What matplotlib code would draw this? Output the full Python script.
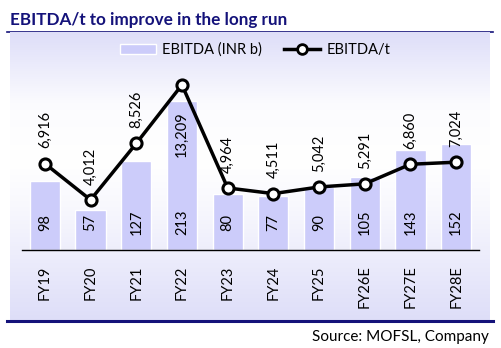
import matplotlib.pyplot as plt
import numpy as np
from matplotlib.lines import Line2D
from matplotlib.patches import Patch

# data
years = ['FY19', 'FY20', 'FY21', 'FY22', 'FY23', 'FY24', 'FY25', 'FY26E', 'FY27E', 'FY28E']
ebitda = [98, 57, 127, 213, 80, 77, 90, 105, 143, 152]
ebitda_per_t = [6916, 4012, 8526, 13209, 4964, 4511, 5042, 5291, 6860, 7024]

navy = '#14127a'
bar_color = '#ccccfa'
font = 'Lato'

W, H = 501, 348
fig = plt.figure(figsize=(W / 100, H / 100), dpi=100)
fig.patch.set_facecolor('white')


def fx(px):
    return px / W


def fy(py):
    return 1 - py / H


# background panel with vertical gradient
bg = fig.add_axes([fx(10), fy(321), fx(480), (321 - 32) / H], zorder=0)
grad = np.array([0.0, 0.25, 0.45, 0.6, 1.0])
vals = np.interp(np.linspace(0, 1, 200), grad, [0.0, 0.9, 1.0, 0.8, 0.0])
top = np.array([0.87, 0.87, 0.975])
rgb = top[None, :] + (1 - top[None, :]) * vals[:, None]
bg.imshow(rgb[:, None, :], aspect='auto', extent=[0, 1, 0, 1], origin='upper')
bg.axis('off')

# title and frame lines
fig.text(fx(10), fy(20), 'EBITDA/t to improve in the long run', fontsize=12.3,
         fontweight='bold', color=navy, family=font, va='center', ha='left')
fig.add_artist(Line2D([fx(7), fx(493)], [fy(32), fy(32)], color=navy, lw=1.2, zorder=-1))
fig.add_artist(Line2D([fx(7), fx(493)], [fy(321), fy(321)], color=navy, lw=2.2, zorder=5))
fig.text(fx(489), fy(337), 'Source: MOFSL, Company', fontsize=11, family=font,
         color='black', ha='right', va='center')

# main axes
ax = fig.add_axes([fx(22), fy(250), fx(457), 190 / H], zorder=2)
ax.patch.set_alpha(0)
x = np.arange(len(years))
ax.bar(x, ebitda, width=0.66, color=bar_color, edgecolor='white', linewidth=1, zorder=2)
ax.set_ylim(0, 190 / 0.7)
ax.set_xlim(-0.5, len(years) - 0.5)
for sp in ['top', 'right', 'left']:
    ax.spines[sp].set_visible(False)
ax.spines['bottom'].set_linewidth(1)
ax.set_yticks([])
ax.set_xticks(x)
ax.set_xticklabels(years, rotation=90, fontsize=10.5, family=font)
ax.tick_params(axis='x', length=0, pad=11)

for xi, v in zip(x, ebitda):
    ax.annotate(str(v), (xi, 0), xytext=(0, 20), textcoords='offset points',
                rotation=90, ha='center', va='center', fontsize=10.5, family=font)

ax2 = ax.twinx()
ax2.set_ylim(0, 190 / 0.0125)
ax2.axis('off')
ax2.plot(x, ebitda_per_t, color='black', lw=2.5, marker='o', markersize=8,
         markerfacecolor='white', markeredgecolor='black', markeredgewidth=2.2, zorder=4)
peak = int(np.argmax(ebitda_per_t))
for i, (xi, v) in enumerate(zip(x, ebitda_per_t)):
    if i == peak:
        # the peak label sits inside the bar, under the marker
        ax2.annotate(f'{v:,}', (xi, v), xytext=(0, -19), textcoords='offset points',
                     rotation=90, ha='center', va='top', fontsize=10.5, family=font)
    else:
        ax2.annotate(f'{v:,}', (xi, v), xytext=(0, 11), textcoords='offset points',
                     rotation=90, ha='center', va='bottom', fontsize=10.5, family=font)

# legend
handles = [Patch(facecolor=bar_color, edgecolor='white', label='EBITDA (INR b)'),
           Line2D([], [], color='black', lw=2.5, marker='o', markersize=7,
                  markerfacecolor='white', markeredgewidth=2, label='EBITDA/t')]
fig.legend(handles=handles, loc='center', bbox_to_anchor=(fx(255), fy(50)), ncol=2,
           frameon=False, prop={'family': font, 'size': 10.5}, handlelength=2.5,
           columnspacing=1.5, handletextpad=0.4)

fig.savefig('out.png', dpi=100)
